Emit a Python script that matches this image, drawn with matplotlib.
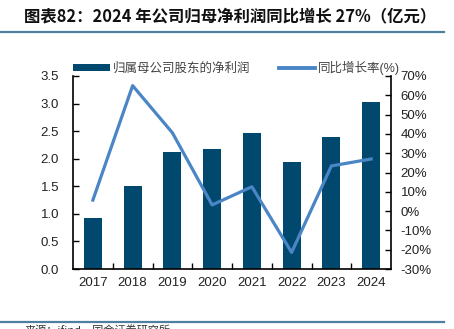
import matplotlib.pyplot as plt
from matplotlib.lines import Line2D

plt.rcParams['font.family'] = ['Liberation Sans', 'Noto Sans CJK SC', 'DejaVu Sans']
plt.rcParams['axes.unicode_minus'] = False

# 数据
years = ['2017', '2018', '2019', '2020', '2021', '2022', '2023', '2024']
net_profit = [0.93, 1.50, 2.12, 2.18, 2.47, 1.94, 2.39, 3.03]      # 亿元
yoy_growth = [5.7, 65.0, 40.6, 3.2, 12.6, -21.4, 23.4, 27.0]       # %

bar_color = '#00486E'
line_color = '#4A86C5'
rule_color = '#4E7F9E'

fig = plt.figure(figsize=(4.54, 3.29), dpi=100)
ax1 = fig.add_axes([73 / 454, 1 - 269 / 329, 318 / 454, 193 / 329])
ax2 = ax1.twinx()

x = list(range(len(years)))
bars = ax1.bar(x, net_profit, width=0.45, color=bar_color, label='归属母公司股东的净利润')
line, = ax2.plot(x, yoy_growth, color=line_color, linewidth=2.3, label='同比增长率(%)')

ax1.set_xlim(-0.5, len(years) - 0.5)
ax1.set_ylim(0, 3.5)
ax1.set_yticks([i * 0.5 for i in range(8)])
ax1.set_yticklabels([f'{i * 0.5:.1f}' for i in range(8)])
ax2.set_ylim(-30, 70)
ax2.set_yticks(range(-30, 71, 10))
ax2.set_yticklabels([f'{v}%' for v in range(-30, 71, 10)])

# x 轴刻度放在类别之间，标签放在类别中心
ax1.set_xticks([i + 0.5 for i in x[:-1]])
ax1.set_xticks(x, minor=True)
ax1.set_xticklabels([])
ax1.set_xticklabels(years, minor=True)
ax1.tick_params(axis='x', which='major', direction='in', length=4, width=1)
ax1.tick_params(axis='x', which='minor', length=0, pad=6, labelsize=9.5, labelcolor='#222222')
ax1.tick_params(axis='y', direction='in', length=4, width=1, pad=10, labelsize=9.5, labelcolor='#222222')
ax2.tick_params(axis='y', direction='in', length=4, width=1, pad=7, labelsize=9.5, labelcolor='#222222')

for ax in (ax1, ax2):
    ax.spines['top'].set_visible(False)
    for s in ('left', 'right', 'bottom'):
        ax.spines[s].set_linewidth(1.2)
ax1.spines['right'].set_visible(False)
ax2.spines['left'].set_visible(False)
ax2.spines['bottom'].set_visible(False)

leg_handles = [bars, Line2D([], [], color=line_color, linewidth=2.8)]
fig.legend(leg_handles, ['归属母公司股东的净利润', '同比增长率(%)'],
           loc='center left', bbox_to_anchor=(62 / 454, 1 - 68 / 329), ncol=2,
           frameon=False, fontsize=9, handlelength=2.9, handleheight=0.45,
           columnspacing=2.3, handletextpad=0.25, labelcolor='#444444')

# 标题与分隔线
fig.text(24 / 454, 1 - 16 / 329, '图表82：2024 年公司归母净利润同比增长 27%（亿元）',
         fontsize=11.8, fontweight='bold', style='italic', va='center', ha='left',
         color='#111111', family=['Noto Sans CJK SC', 'DejaVu Sans'])
fig.add_artist(Line2D([0, 444 / 454], [1 - 32 / 329] * 2, color=rule_color, linewidth=1.6))
fig.add_artist(Line2D([0, 444 / 454], [1 - 322 / 329] * 2, color=rule_color, linewidth=1.6))
fig.text(25 / 454, 1 - 324.5 / 329, '来源：ifind，国金证券研究所', fontsize=8, va='top',
         ha='left', color='#333333', family=['Noto Sans CJK SC', 'DejaVu Sans'])

fig.savefig('out.png', dpi=100)
